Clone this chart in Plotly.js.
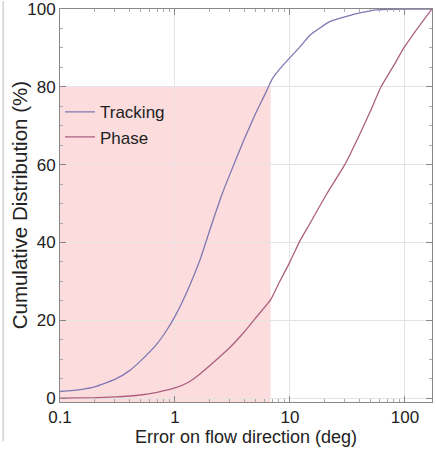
<!DOCTYPE html>
<html>
<head>
<meta charset="utf-8">
<script src="https://cdn.plot.ly/plotly-3.0.1.min.js"></script>
<style>html,body{margin:0;padding:0;background:#fff;}#chart{width:436px;height:453px;}</style>
</head>
<body>
<div id="chart"></div>
<script>
var trackingX = [0.1, 0.15, 0.2, 0.3, 0.4, 0.5, 0.7, 0.85, 1, 1.3, 1.65, 2, 2.5, 3, 4, 5, 6, 6.5, 7, 8, 10, 12, 15, 22, 38, 57, 100, 172];
var trackingY = [1.7, 2.2, 2.9, 4.8, 7, 9.5, 14, 17.5, 21, 28, 35.5, 43, 51.5, 57.5, 66.5, 73, 77.8, 80, 82, 84.3, 87.5, 90, 93.3, 96.7, 98.8, 99.8, 100, 100];
var phaseX = [0.1, 0.2, 0.3, 0.5, 0.7, 1, 1.3, 1.65, 2, 3, 4, 5, 6.8, 8, 10, 12.2, 15, 20.8, 30, 40, 50, 62, 80, 97, 125, 172];
var phaseY = [0, 0.1, 0.3, 0.8, 1.5, 2.6, 4, 6.2, 8.3, 13, 17, 20.5, 25.3, 29.5, 35, 40.4, 45, 52.4, 60, 67.5, 73.7, 80, 85.5, 89.8, 94.5, 100];
var xTicks = [0.1, 1, 10, 100];
var xTickText = ["0.1", "1", "10", "100"];
var xMinorTicks = [0.2, 0.3, 0.4, 0.5, 0.6, 0.7, 0.8, 0.9, 2, 3, 4, 5, 6, 7, 8, 9, 20, 30, 40, 50, 60, 70, 80, 90];
var yTicks = [0, 20, 40, 60, 80, 100];
var regionX = [0.1, 6.8];
var regionY = [-1, 80];

var fam = "Liberation Sans, Arial, sans-serif";
var txt = "#222";

var traces = [
  {x: trackingX, y: trackingY, type: "scatter", mode: "lines", name: "Tracking", legendgroup: "a",
   line: {color: "#8078b4", width: 1.3, shape: "spline", smoothing: 0.4}},
  {x: phaseX, y: phaseY, type: "scatter", mode: "lines", name: "Phase", legendgroup: "b",
   line: {color: "#ac6080", width: 1.3, shape: "spline", smoothing: 0.4}}
];

var layout = {
  width: 436, height: 453,
  margin: {l: 60, r: 4, t: 9, b: 51},
  paper_bgcolor: "#fff", plot_bgcolor: "#fff",
  font: {family: fam, size: 17, color: txt},
  showlegend: true,
  legend: {x: 0.0, y: 0.783, xanchor: "left", yanchor: "top", bgcolor: "rgba(0,0,0,0)",
           font: {family: fam, size: 17, color: txt}, itemwidth: 30,
           traceorder: "grouped", tracegroupgap: 0},
  xaxis: {type: "log", range: [-1, Math.log10(172)], tickvals: xTicks, ticktext: xTickText,
          ticks: "inside", ticklen: 6, tickcolor: "#888", mirror: "ticks", showline: true,
          linecolor: "#888", linewidth: 1, showgrid: true, gridcolor: "#e4e4e4", zeroline: false,
          minor: {ticks: "inside", ticklen: 3, tickcolor: "#aaa", tickvals: xMinorTicks, showgrid: false},
          tickfont: {family: fam, size: 17, color: txt},
          title: {text: "Error on flow direction (deg)", standoff: 1,
                  font: {family: fam, size: 18, color: txt}}},
  yaxis: {range: [-1, 100], tickvals: yTicks, ticks: "inside", ticklen: 6, tickcolor: "#888",
          mirror: "ticks", showline: true, linecolor: "#888", linewidth: 1, showgrid: true,
          gridcolor: "#e4e4e4", zeroline: false, ticklabeloverflow: "allow",
          minor: {ticks: "inside", ticklen: 3, tickcolor: "#aaa", dtick: 5, showgrid: false},
          tickfont: {family: fam, size: 17, color: txt}},
  annotations: [
    {text: "Cumulative Distribution (%)", xref: "paper", yref: "paper", x: -0.108, y: 0.5,
     xanchor: "center", yanchor: "middle", textangle: -90, showarrow: false,
     font: {family: fam, size: 20.5, color: txt}}
  ],
  shapes: [
    {type: "rect", xref: "x", yref: "y", x0: regionX[0], x1: regionX[1], y0: regionY[0], y1: regionY[1],
     fillcolor: "#fcdcdc", line: {width: 0}, layer: "below"},
    {type: "line", xref: "paper", yref: "paper", x0: -0.153, x1: -0.153, y0: -0.1, y1: 1.02,
     line: {color: "#bbb", width: 1}}
  ]
};

Plotly.newPlot("chart", traces, layout, {displayModeBar: false, staticPlot: true});
</script>
</body>
</html>
